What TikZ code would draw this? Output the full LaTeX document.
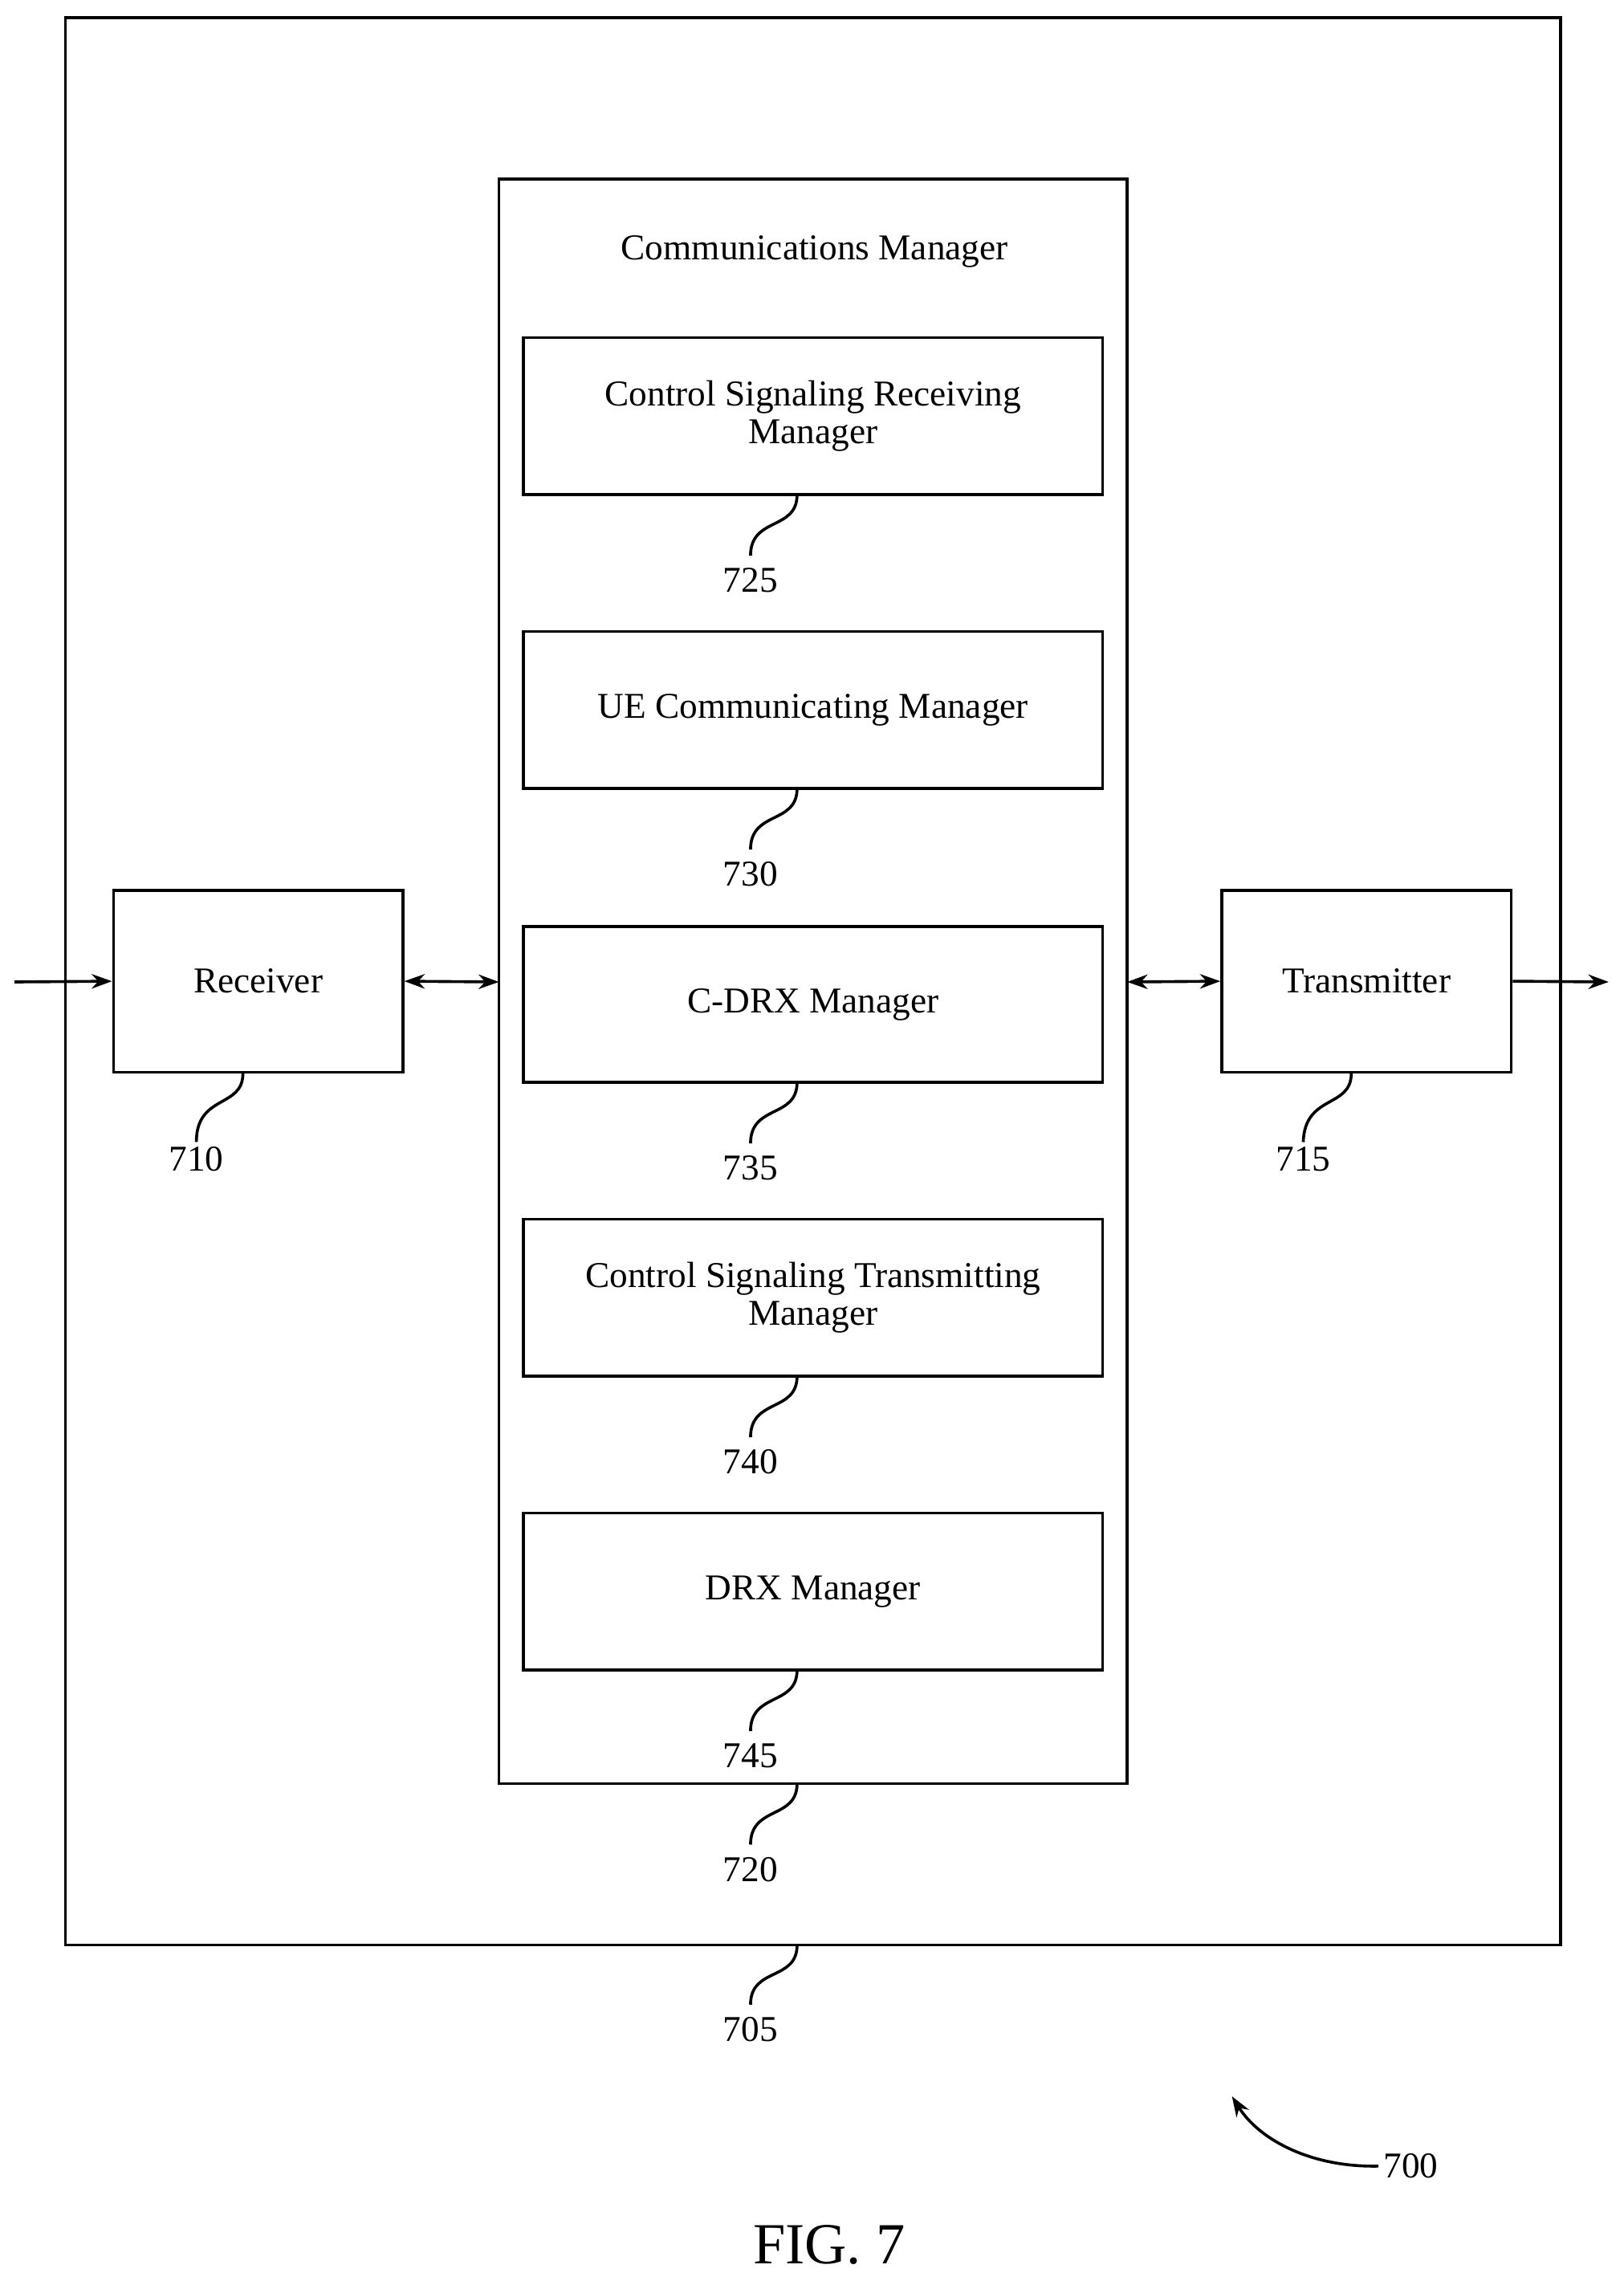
\documentclass[tikz,border=0pt]{standalone}
\usepackage{fontspec}
\setmainfont{Liberation Serif}
\usetikzlibrary{arrows.meta}
\begin{document}
\begin{tikzpicture}[x=1pt,y=-1pt,
  box/.style={draw,line width=2pt},
  lbl/.style={font=\fontsize{25}{30}\selectfont,align=center},
  tip/.style={-{Stealth[length=14pt,width=10pt]}},
  dtip/.style={{Stealth[length=14pt,width=10pt]}-{Stealth[length=14pt,width=10pt]}},
  sq/.style={line width=2pt}]
\useasboundingbox (0,0) rectangle (1116,1568);
\draw[box] (45,12) rectangle (1073,1337);
\coordinate (outerb) at (548,1337);
\draw[box] (343,123) rectangle (775,1226);
\coordinate (cmb) at (548,1226);
\node[lbl] (cmt) at (560,173) {Communications Manager};
\node[box,lbl,minimum width=398pt,minimum height=108pt] (b725) at (559,286) {Control Signaling Receiving\\[-4pt]Manager};
\node[box,lbl,minimum width=398pt,minimum height=108pt] (b730) at (559,488) {UE Communicating Manager};
\node[box,lbl,minimum width=398pt,minimum height=107pt] (b735) at (559,690.5) {C-DRX Manager};
\node[box,lbl,minimum width=398pt,minimum height=108pt] (b740) at (559,892) {Control Signaling Transmitting\\[-4pt]Manager};
\node[box,lbl,minimum width=398pt,minimum height=108pt] (b745) at (559,1094) {DRX Manager};
\node[box,lbl,minimum width=199pt,minimum height=125pt] (rx) at (177.5,674.5) {Receiver};
\node[box,lbl,minimum width=199pt,minimum height=125pt] (tx) at (939.5,674.5) {Transmitter};
\coordinate (cml) at (343,675);
\coordinate (cmr) at (775,675);
\coordinate (in) at (10,675);
\coordinate (out) at (1106,675);
\draw[line width=2pt,tip] (in) -- (rx.west);
\draw[line width=2pt,dtip] (rx.east) -- (cml);
\draw[line width=2pt,dtip] (cmr) -- (tx.west);
\draw[line width=2pt,tip] (tx.east) -- (out);
% reference labels
\foreach \n/\top/\y in {725/340/399,730/542/601,735/744/803,740/946/1005,745/1148/1207,720/1226/1285,705/1337/1395}{
  \node[lbl] (l\n) at (516,\y) {\n};
  \draw[sq] (548,\top) .. controls (548,\top+25) and (516,\top+15) .. (516,\y-17);
}
\node[lbl] (l710) at (135,797) {710};
\draw[sq] (rx.south -| 167,0) .. controls (167,762) and (135,752) .. (l710.north);
\node[lbl] (l715) at (896,797) {715};
\draw[sq] (tx.south -| 929,0) .. controls (929,762) and (897,752) .. (l715.north);
\node[lbl] (l700) at (970,1489) {700};
\coordinate (a700) at (847,1441);
\draw[line width=2pt,tip] (l700.west) .. controls (900,1490) and (865,1470) .. (a700);
\node[font=\fontsize{40}{48}\selectfont] (fig) at (570,1543) {FIG. 7};
\end{tikzpicture}
\end{document}
